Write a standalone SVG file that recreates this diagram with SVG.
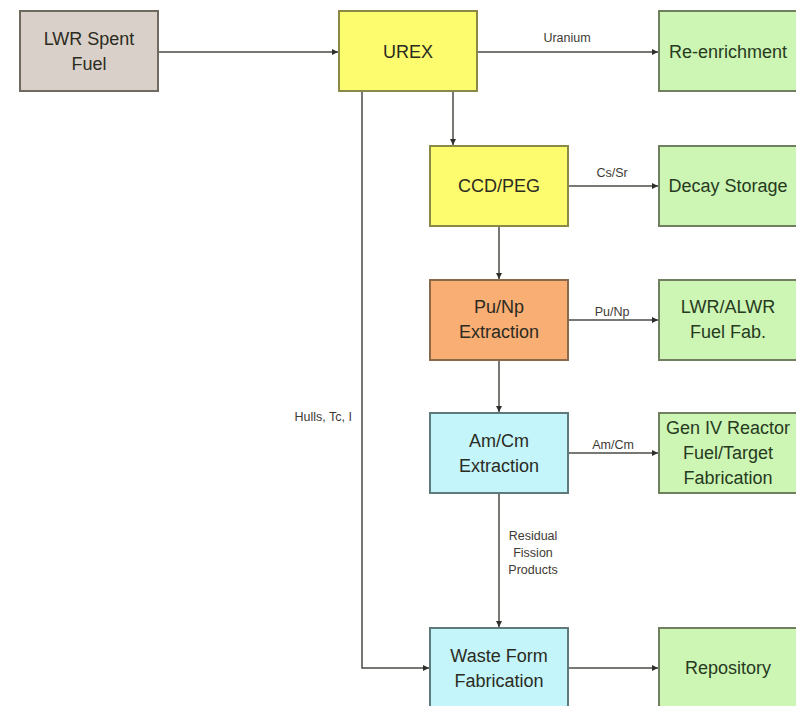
<svg xmlns="http://www.w3.org/2000/svg" width="796" height="706" viewBox="0 0 796 706">
  <style>
    .box { stroke-width: 2; }
    .feed { fill: #d9d1c9; stroke: #6e6a60; }
    .proc { fill: #fcfc6e; stroke: #8a8a48; }
    .pu { fill: #f9ae74; stroke: #8a6a48; }
    .sep { fill: #c3f5fb; stroke: #5f7a7a; }
    .out { fill: #cdf5b4; stroke: #6f7f5f; }
    .lbl { font-family: "Liberation Sans", Arial, sans-serif; font-size: 18px; fill: #2b2b22; text-anchor: middle; }
    .out-lbl { fill: #263a1e; }
    .flow { fill: none; stroke: #4a4a44; stroke-width: 1.5; }
    .tag { font-family: "Liberation Sans", Arial, sans-serif; font-size: 12.5px; fill: #3e3a34; text-anchor: middle; }
  </style>
  <defs>
    <marker id="arrow" viewBox="0 0 10 10" refX="10" refY="5" markerWidth="6" markerHeight="6" orient="auto" markerUnits="userSpaceOnUse">
      <path d="M0,0 L10,5 L0,10 z" fill="#2e2e2a"/>
    </marker>
  </defs>
  <rect width="796" height="706" fill="#ffffff"/>

  <!-- connectors -->
  <g id="connectors">
    <path class="flow" d="M158,52 H338" marker-end="url(#arrow)"/>
    <path class="flow" d="M478,52 H658" marker-end="url(#arrow)"/>
    <text class="tag" x="567" y="42">Uranium</text>
    <path class="flow" d="M453,92 V145" marker-end="url(#arrow)"/>
    <path class="flow" d="M569,186 H658" marker-end="url(#arrow)"/>
    <text class="tag" x="612" y="177">Cs/Sr</text>
    <path class="flow" d="M499,227 V279" marker-end="url(#arrow)"/>
    <path class="flow" d="M569,320 H658" marker-end="url(#arrow)"/>
    <text class="tag" x="612" y="316">Pu/Np</text>
    <path class="flow" d="M499,361 V412" marker-end="url(#arrow)"/>
    <path class="flow" d="M569,453 H658" marker-end="url(#arrow)"/>
    <text class="tag" x="613" y="449">Am/Cm</text>
    <path class="flow" d="M499,494 V627" marker-end="url(#arrow)"/>
    <text class="tag" x="533" y="540">Residual</text>
    <text class="tag" x="533" y="557">Fission</text>
    <text class="tag" x="533" y="574">Products</text>
    <path class="flow" d="M362,92 V668 H429" marker-end="url(#arrow)"/>
    <text class="tag" x="352" y="421" text-anchor="end" style="text-anchor:end">Hulls, Tc, I</text>
    <path class="flow" d="M569,668 H658" marker-end="url(#arrow)"/>
  </g>

  <!-- nodes -->
  <g id="lwr-spent-fuel">
    <rect class="box feed" x="20" y="11" width="138" height="80"/>
    <text class="lbl" x="89" y="45">LWR Spent</text>
    <text class="lbl" x="89" y="70">Fuel</text>
  </g>
  <g id="urex">
    <rect class="box proc" x="339" y="11" width="138" height="80"/>
    <text class="lbl" x="408" y="58">UREX</text>
  </g>
  <g id="re-enrichment">
    <rect class="box out" x="659" y="11" width="138" height="80"/>
    <text class="lbl out-lbl" x="728" y="58">Re-enrichment</text>
  </g>
  <g id="ccd-peg">
    <rect class="box proc" x="430" y="146" width="138" height="80"/>
    <text class="lbl" x="499" y="192">CCD/PEG</text>
  </g>
  <g id="decay-storage">
    <rect class="box out" x="659" y="146" width="138" height="80"/>
    <text class="lbl out-lbl" x="728" y="192">Decay Storage</text>
  </g>
  <g id="pu-np-extraction">
    <rect class="box pu" x="430" y="280" width="138" height="80"/>
    <text class="lbl" x="499" y="313">Pu/Np</text>
    <text class="lbl" x="499" y="338">Extraction</text>
  </g>
  <g id="lwr-alwr-fuel-fab">
    <rect class="box out" x="659" y="280" width="138" height="80"/>
    <text class="lbl out-lbl" x="728" y="313">LWR/ALWR</text>
    <text class="lbl out-lbl" x="728" y="338">Fuel Fab.</text>
  </g>
  <g id="am-cm-extraction">
    <rect class="box sep" x="430" y="413" width="138" height="80"/>
    <text class="lbl" x="499" y="447">Am/Cm</text>
    <text class="lbl" x="499" y="472">Extraction</text>
  </g>
  <g id="gen-iv-fabrication">
    <rect class="box out" x="659" y="413" width="138" height="80"/>
    <text class="lbl out-lbl" x="728" y="434">Gen IV Reactor</text>
    <text class="lbl out-lbl" x="728" y="459">Fuel/Target</text>
    <text class="lbl out-lbl" x="728" y="484">Fabrication</text>
  </g>
  <g id="waste-form-fabrication">
    <rect class="box sep" x="430" y="628" width="138" height="80"/>
    <text class="lbl" x="499" y="662">Waste Form</text>
    <text class="lbl" x="499" y="687">Fabrication</text>
  </g>
  <g id="repository">
    <rect class="box out" x="659" y="628" width="138" height="80"/>
    <text class="lbl out-lbl" x="728" y="674">Repository</text>
  </g>
</svg>
